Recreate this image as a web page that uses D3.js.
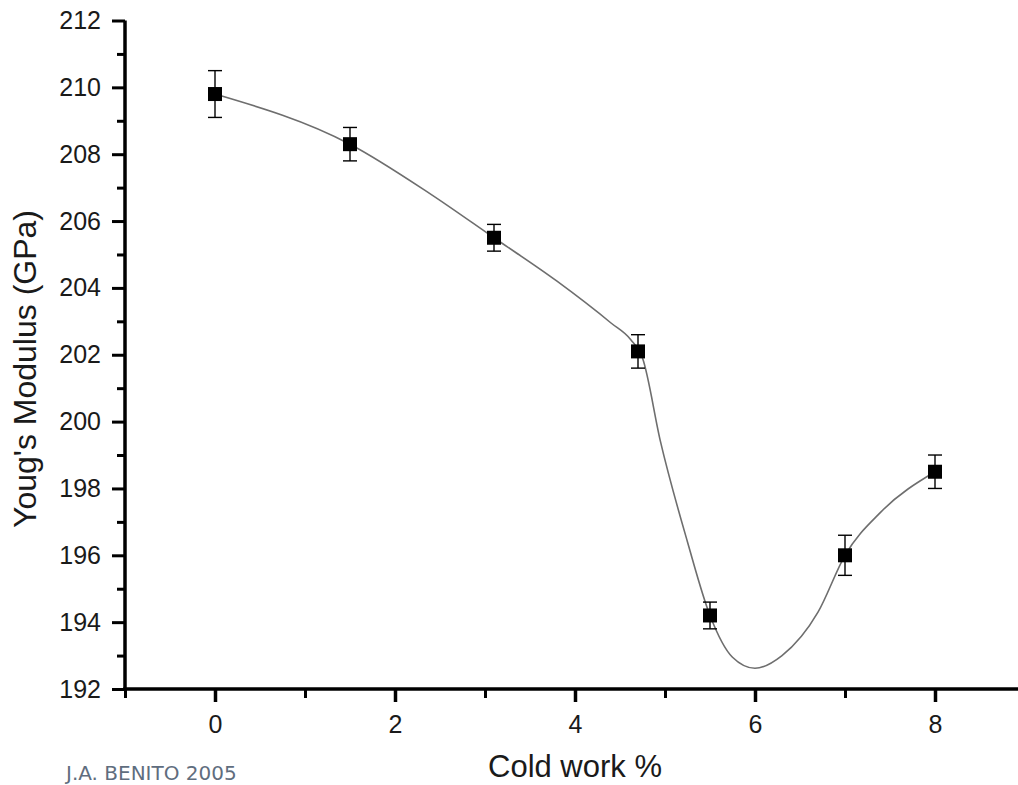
<!DOCTYPE html>
<html>
<head>
<meta charset="utf-8">
<script src="https://cdn.jsdelivr.net/npm/d3@7"></script>
<style>
  html, body { margin: 0; padding: 0; background: #fff; }
  svg { display: block; }
</style>
</head>
<body>
<svg id="chart" width="1018" height="785"></svg>
<script>
// ---- data ----
const coldWork   = [0, 1.5, 3.1, 4.7, 5.5, 7.0, 8.0];
const modulus    = [209.8, 208.3, 205.5, 202.1, 194.2, 196.0, 198.5];
const errHigh    = [210.5, 208.8, 205.9, 202.6, 194.6, 196.6, 199.0];
const errLow     = [209.1, 207.8, 205.1, 201.6, 193.8, 195.4, 198.0];

// smooth fitted curve
const curveX = [0, 1.5, 2.4, 3.1, 3.8, 4.4, 4.62, 4.75, 4.95, 5.25, 5.5, 5.75, 6.0, 6.3, 6.7, 7.0, 7.4, 8.0];
const curveY = [209.8, 208.3, 206.8, 205.5, 204.2, 202.95, 202.45, 201.9, 199.4, 196.4, 194.2, 192.95, 192.62, 193.0, 194.3, 196.0, 197.3, 198.5];

const xMajorTicks = [0, 2, 4, 6, 8];
const xMinorTicks = [-1, 1, 3, 5, 7];
const yMajorTicks = [192, 194, 196, 198, 200, 202, 204, 206, 208, 210, 212];
const yMinorTicks = [193, 195, 197, 199, 201, 203, 205, 207, 209, 211];

const xTitle = "Cold work %";
const yTitle = "Youg's Modulus (GPa)";
const credit = "J.A. BENITO 2005";

// ---- layout ----
const svg = d3.select("#chart");
const x = d3.scaleLinear().domain([-1, 9]).range([125, 1025]);
const y = d3.scaleLinear().domain([192, 212]).range([689, 20.5]);

const tickFont = "'Liberation Sans', Arial, Helvetica, sans-serif";

// curve
const line = d3.line()
  .x(d => x(d[0]))
  .y(d => y(d[1]))
  .curve(d3.curveMonotoneX);
svg.append("path")
  .datum(curveX.map((v, i) => [v, curveY[i]]))
  .attr("d", line)
  .attr("fill", "none")
  .attr("stroke", "#6e6e6e")
  .attr("stroke-width", 1.6);

// error bars
const pts = coldWork.map((v, i) => ({x: v, y: modulus[i], hi: errHigh[i], lo: errLow[i]}));
const capW = 7;
const eb = svg.append("g").attr("stroke", "#000").attr("stroke-width", 1.4).attr("fill", "none");
pts.forEach(p => {
  eb.append("line").attr("x1", x(p.x)).attr("x2", x(p.x)).attr("y1", y(p.hi)).attr("y2", y(p.lo));
  eb.append("line").attr("x1", x(p.x) - capW).attr("x2", x(p.x) + capW).attr("y1", y(p.hi)).attr("y2", y(p.hi));
  eb.append("line").attr("x1", x(p.x) - capW).attr("x2", x(p.x) + capW).attr("y1", y(p.lo)).attr("y2", y(p.lo));
});

// markers
const ms = 14;
svg.append("g").selectAll("rect").data(pts).join("rect")
  .attr("x", d => x(d.x) - ms / 2)
  .attr("y", d => y(d.y) - ms / 2)
  .attr("width", ms)
  .attr("height", ms)
  .attr("fill", "#000");

// axes
function styleAxis(g, w) {
  g.select(".domain").attr("stroke", "#000").attr("stroke-width", 3.5);
  g.selectAll(".tick line").attr("stroke", "#000").attr("stroke-width", w);
  g.selectAll(".tick text")
    .attr("font-family", tickFont)
    .attr("font-size", 25)
    .attr("fill", "#1a1a1a");
}

// y axis
const yMinor = svg.append("g").attr("transform", `translate(${x(-1)},0)`)
  .call(d3.axisLeft(y).tickValues(yMinorTicks).tickSize(8).tickSizeOuter(0).tickFormat(""));
styleAxis(yMinor, 3);
yMinor.select(".domain").remove();

const yAxis = svg.append("g").attr("transform", `translate(${x(-1)},0)`)
  .call(d3.axisLeft(y).tickValues(yMajorTicks).tickSize(13).tickSizeOuter(0).tickPadding(11).tickFormat(d3.format("d")));
styleAxis(yAxis, 3);
yAxis.select(".domain").attr("d", `M0,${y(212)}V${y(192) + 1.75}`);

// x axis
const xMinor = svg.append("g").attr("transform", `translate(0,${y(192)})`)
  .call(d3.axisBottom(x).tickValues(xMinorTicks).tickSize(9).tickSizeOuter(0).tickFormat(""));
styleAxis(xMinor, 3);
xMinor.select(".domain").remove();

const xAxis = svg.append("g").attr("transform", `translate(0,${y(192)})`)
  .call(d3.axisBottom(x).tickValues(xMajorTicks).tickSize(13).tickSizeOuter(0).tickPadding(13).tickFormat(d3.format("d")));
styleAxis(xAxis, 3.5);
xAxis.select(".domain").attr("d", `M${x(-1) - 1.75},0H${x(9)}`);

// titles
svg.append("text")
  .attr("x", x(4))
  .attr("y", 777)
  .attr("text-anchor", "middle")
  .attr("font-family", tickFont)
  .attr("font-size", 31)
  .attr("fill", "#1a1a1a")
  .text(xTitle);

svg.append("text")
  .attr("transform", `translate(36,${369}) rotate(-90)`)
  .attr("text-anchor", "middle")
  .attr("font-family", tickFont)
  .attr("font-size", 32)
  .attr("fill", "#1a1a1a")
  .text(yTitle);

svg.append("text")
  .attr("x", 66)
  .attr("y", 780)
  .attr("font-family", "'DejaVu Sans', Verdana, sans-serif")
  .attr("font-size", 20)
  .attr("fill", "#5f6d7e")
  .text(credit);
</script>
</body>
</html>
